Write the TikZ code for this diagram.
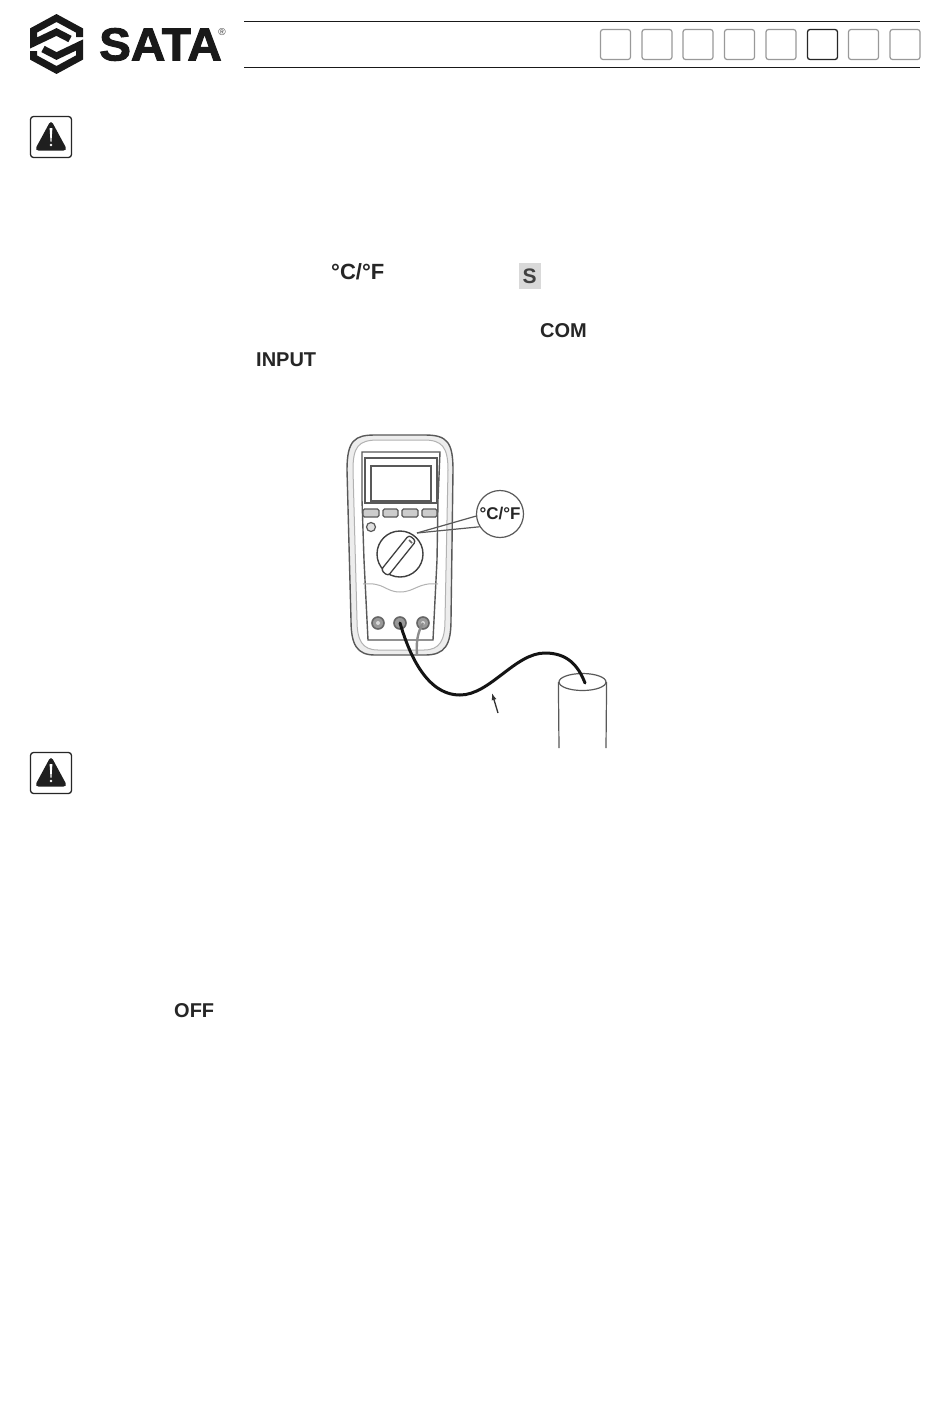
\documentclass[tikz,border=0pt]{standalone}
\usepackage{fontspec}
\setmainfont{Liberation Sans}
\newfontfamily\brandfont[FakeBold=2.2,FakeStretch=1.035]{Liberation Sans Bold}
\usetikzlibrary{arrows.meta,shapes.geometric}
\tikzset{
  x=1pt,y=-1pt,
  tabbox/.style={draw=black!40,line width=1.2pt,rounded corners=2.5pt,minimum width=30pt,minimum height=30pt,inner sep=0pt},
  tabon/.style={tabbox,draw=black!85,line width=1.3pt},
  rule/.style={draw=black!90,line width=0.8pt},
  warnbox/.style={draw=black!85,line width=1.3pt,rounded corners=3pt,minimum width=41pt,minimum height=41pt,inner sep=0pt},
  lab/.style={font=\bfseries\fontsize{20}{20}\selectfont,inner sep=0pt,text=black!85},
  meter/.style={draw=black!65,line width=1.4pt},
  meterlight/.style={draw=black!30,line width=1pt},
  key/.style={draw=black!65,fill=black!20,line width=1.2pt,rounded corners=1.5pt},
  jack/.style={circle,draw=black!60,fill=black!40,line width=1.6pt,minimum size=12pt,inner sep=0pt},
  thin line/.style={draw=black!65,line width=1.2pt},
}
\newcommand{\warnicon}[2]{%
  \node[warnbox] (#2) at (51,#1) {};
  \fill[black!88,rounded corners=4pt] (51,#1-17) -- (67.5,#1+13.5) -- (34.5,#1+13.5) -- cycle;
  \fill[white] (49.6,#1-9) -- (52.4,#1-9) -- (51.5,#1+4.5) -- (50.5,#1+4.5) -- cycle;
  \fill[white] (51,#1+8) circle (1.4);
}
\begin{document}
\begin{tikzpicture}
\useasboundingbox (0,0) rectangle (950,1414);
\fill[white] (0,0) rectangle (950,1414);
% logo
\draw[black!90,line width=7pt,line join=miter]
  (79.5,37) -- (79.5,30.5) -- (56.5,18) -- (33.5,30.5) -- (33.5,43) -- (56.5,32) -- (70,39);
\draw[black!90,line width=7pt,line join=miter]
  (33.5,51) -- (33.5,57.5) -- (56.5,70) -- (79.5,57.5) -- (79.5,45) -- (56.5,56) -- (43,49);
\node[inner sep=0pt,anchor=west,font=\brandfont\fontsize{46}{46}\selectfont,text=black!90] (brand) at (99,44.5) {SATA};
\node[inner sep=0pt,font=\fontsize{10}{10}\selectfont,text=black!75] (reg) at (222,32) {®};
% header
\draw[rule] (244,21.5) -- (920,21.5);
\draw[rule] (244,67.5) -- (920,67.5);
\node[tabbox] (t1) at (615.5,44.5) {};
\node[tabbox] (t2) at (657,44.5) {};
\node[tabbox] (t3) at (698,44.5) {};
\node[tabbox] (t4) at (739.5,44.5) {};
\node[tabbox] (t5) at (781,44.5) {};
\node[tabon]  (t6) at (822.5,44.5) {};
\node[tabbox] (t7) at (863.5,44.5) {};
\node[tabbox] (t8) at (905,44.5) {};
% warnings
\warnicon{137}{w1}
\warnicon{773}{w2}
% inline labels
\node[lab,font=\bfseries\fontsize{22}{22}\selectfont,anchor=west] (unit) at (331,272) {°C/°F};
\fill[black!15] (519,263) rectangle (541,289);
\node[lab,font=\bfseries\fontsize{21}{21}\selectfont,text=black!75] (s) at (529.5,276) {S};
\node[lab,anchor=west] (com) at (540,331) {COM};
\node[lab,anchor=west] (input) at (256,360) {INPUT};
\node[lab,anchor=west] (off) at (174,1011) {OFF};
% meter body
\draw[meter,fill=black!7] (347,470) .. controls (347,440) and (355,435) .. (375,435) -- (425,435) .. controls (447,435) and (453,442) .. (453,470) -- (451,620) .. controls (451,645) and (445,655) .. (425,655) -- (375,655) .. controls (357,655) and (351,645) .. (351,620) -- cycle;
\draw[meterlight,fill=white] (353,470) .. controls (353,447) and (358,440) .. (378,440) -- (424,440) .. controls (442,440) and (448,447) .. (448,470) -- (445,620) .. controls (445,640) and (440,650) .. (424,650) -- (378,650) .. controls (362,650) and (357,640) .. (357,620) -- cycle;
\draw[meter] (362,452) -- (440,452) -- (438,500) -- (437,560) -- (433,640) -- (368,640) -- (364,560) -- (362,500) -- cycle;
\draw[meter] (365,458) rectangle (437,503);
\draw[meter,line width=1.8pt] (371,466) rectangle (431,501);
\node[key,minimum width=16pt,minimum height=8pt,inner sep=0pt] (k1) at (371,513) {};
\node[key,minimum width=15pt,minimum height=8pt,inner sep=0pt] (k2) at (390.5,513) {};
\node[key,minimum width=16pt,minimum height=8pt,inner sep=0pt] (k3) at (410,513) {};
\node[key,minimum width=15pt,minimum height=8pt,inner sep=0pt] (k4) at (429.5,513) {};
\node[circle,draw=black!65,fill=black!12,line width=1.2pt,minimum size=9pt,inner sep=0pt] (led) at (371,527) {};
\draw[meterlight] (363,584) .. controls (385,582) and (385,592) .. (400,592) .. controls (415,592) and (418,582) .. (438,584);
% dial
\node[circle,draw=black!75,fill=white,line width=1.4pt,minimum size=46pt,inner sep=0pt] (dial) at (400,554) {};
\draw[black!75,fill=white,line width=1.3pt,rounded corners=3pt] (381,570) -- (409,535) -- (416,541) -- (388,576) -- cycle;
\draw[black!60,line width=1.6pt] (409,540) -- (412,543);
% terminals
\node[jack] (j1) at (378,623) {};
\node[jack] (j2) at (400,623) {};
\node[jack] (j3) at (423,623) {};
\node[circle,fill=black!15,minimum size=4pt,inner sep=0pt] at (j1) {};
\node[circle,fill=black!15,minimum size=4pt,inner sep=0pt] at (j3) {};
% thermocouple second lead
\draw[black!45,line width=2.4pt] (j3.center) .. controls (418,632) and (416,640) .. (417,655);
% bubble
\coordinate (tip) at (417,533);
\node[circle,thin line,fill=white,minimum size=47pt,inner sep=0pt,font=\bfseries\fontsize{17}{17}\selectfont,text=black!85] (bubble) at (500,514) {°C/°F};
\draw[thin line] (tip) -- (bubble.185);
\draw[thin line] (tip) -- (bubble.212);
% cylinder
\node[ellipse,thin line,minimum width=47pt,minimum height=17pt,inner sep=0pt] (probe) at (582.5,682) {};
\coordinate (bl) at (559,748);
\coordinate (br) at (606,748);
\draw[thin line] (probe.west) -- (bl);
\draw[thin line] (probe.east) -- (br);
% wire
\coordinate (wend) at (585,683);
\draw[black!92,line width=3pt,line cap=round] (j2.center) .. controls (408,650) and (425,695) .. (460,695) .. controls (490,695) and (515,653) .. (545,653) .. controls (567,653) and (578,665) .. (wend);
% arrow
\coordinate (as) at (498,713);
\coordinate (ae) at (492,693);
\draw[black!80,line width=1.3pt,-{Latex[length=7pt,width=5pt]}] (as) -- (ae);
\end{tikzpicture}
\end{document}
